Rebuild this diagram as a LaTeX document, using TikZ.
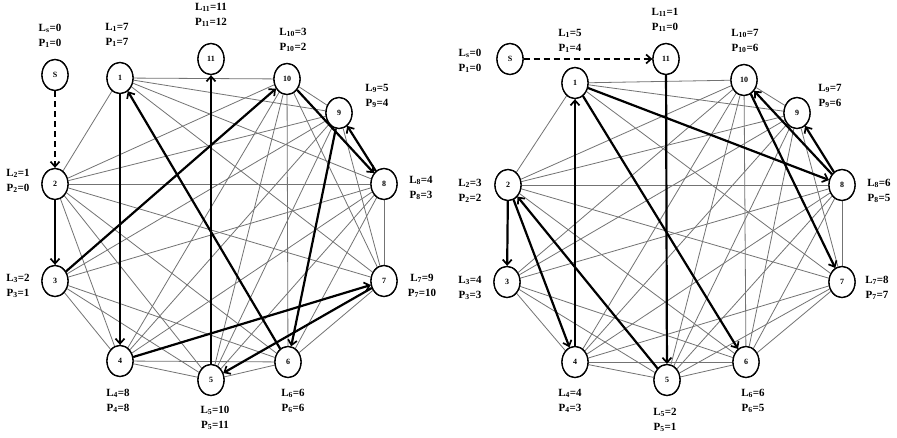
\documentclass[tikz,border=0pt]{standalone}
\usepackage{fontspec}
\setmainfont{Liberation Serif}
\usetikzlibrary{arrows.meta,shapes.geometric}
\newcommand\LPlab[4]{L\textsubscript{#1}=#2\\P\textsubscript{#3}=#4}
\begin{document}
\begin{tikzpicture}[x=1pt,y=-1pt,
 nd/.style={ellipse,draw,line width=1.3pt,minimum width=26pt,minimum height=31pt,inner sep=0pt,fill=white,font=\fontsize{8}{9}\selectfont\bfseries},
 lb/.style={align=center,inner sep=0pt,font=\fontsize{11}{15}\selectfont\bfseries},
 gr/.style={draw=black!55,line width=0.8pt},
 thk/.style={line width=2.2pt,-{Straight Barb[length=5pt,width=9pt,line width=1.7pt]}},
 dsh/.style={thk,dash pattern=on 6pt off 4pt}]
\useasboundingbox[fill=white] (0,0) rectangle (897,438);
% node positions
\foreach \n/\x/\y in {1/120/78,2/55/184,3/55/281,4/120/361,5/211/380,6/288/362,7/384/281,8/384/184,9/339/113,10/287/79,11/211/59,S/55/75}
  \node[nd] (L\n) at (\x,\y) {\n};
\foreach \n/\x/\y in {1/575/83,2/508/185,3/507/282,4/575/362,5/667/380,6/746/362,7/842/282,8/842/185,9/797/113,10/744/80,11/666/59,S/510/59}
  \node[nd] (R\n) at (\x,\y) {\n};
% gray edges
\foreach \a/\b in {1/2,1/4,1/6,1/7,1/8,1/9,1/10,
 2/3,2/4,2/5,2/6,2/7,2/8,2/9,2/10,
 3/4,3/5,3/6,3/8,3/9,3/10,
 4/5,4/6,4/7,4/8,4/9,4/10,
 5/6,5/7,5/8,5/9,5/10,
 6/7,6/8,6/9,6/10,
 7/8,7/9,7/10,
 8/9,8/10,
 9/10}
 {\draw[gr] (L\a) -- (L\b); \draw[gr] (R\a) -- (R\b);}
% redraw nodes on top
\foreach \n in {1,2,3,4,5,6,7,8,9,10,11,S}
 {\node[nd] at (L\n) {\n}; \node[nd] at (R\n) {\n};}
% thick edges left
\draw[dsh] (LS) -- (L2);
\foreach \a/\b in {2/3,3/10,10/8,8/9,9/6,6/1,1/4,4/7,7/5,5/11}
  \draw[thk] (L\a) -- (L\b);
% thick edges right
\draw[dsh] (RS) -- (R11);
\foreach \a/\b in {11/5,5/2,2/3,2/4,4/1,1/8,1/6,8/9,8/10,10/7}
  \draw[thk] (R\a) -- (R\b);
% labels left
\node[lb] (lLS) at (50,36) {\LPlab{s}{0}{1}{0}};
\node[lb] (lL1) at (117,35) {\LPlab{1}{7}{1}{7}};
\node[lb] (lL11) at (211,15) {\LPlab{11}{11}{11}{12}};
\node[lb] (lL10) at (293,40) {\LPlab{10}{3}{10}{2}};
\node[lb] (lL9) at (377,96) {\LPlab{9}{5}{9}{4}};
\node[lb] (lL8) at (421,188) {\LPlab{8}{4}{8}{3}};
\node[lb] (lL2) at (18,181) {\LPlab{2}{1}{2}{0}};
\node[lb] (lL3) at (18,286) {\LPlab{3}{2}{3}{1}};
\node[lb] (lL7) at (422,286) {\LPlab{7}{9}{7}{10}};
\node[lb] (lL4) at (118,401) {\LPlab{4}{8}{4}{8}};
\node[lb] (lL5) at (215,418) {\LPlab{5}{10}{5}{11}};
\node[lb] (lL6) at (293,401) {\LPlab{6}{6}{6}{6}};
% labels right
\node[lb] (lRS) at (470,61) {\LPlab{s}{0}{1}{0}};
\node[lb] (lR1) at (570,41) {\LPlab{1}{5}{1}{4}};
\node[lb] (lR11) at (665,20) {\LPlab{11}{1}{11}{0}};
\node[lb] (lR10) at (745,41) {\LPlab{10}{7}{10}{6}};
\node[lb] (lR9) at (830,96) {\LPlab{9}{7}{9}{6}};
\node[lb] (lR8) at (879,191) {\LPlab{8}{6}{8}{5}};
\node[lb] (lR2) at (470,191) {\LPlab{2}{3}{2}{2}};
\node[lb] (lR3) at (470,288) {\LPlab{3}{4}{3}{3}};
\node[lb] (lR7) at (877,288) {\LPlab{7}{8}{7}{7}};
\node[lb] (lR4) at (570,401) {\LPlab{4}{4}{4}{3}};
\node[lb] (lR5) at (665,420) {\LPlab{5}{2}{5}{1}};
\node[lb] (lR6) at (753,401) {\LPlab{6}{6}{6}{5}};
\end{tikzpicture}
\end{document}
